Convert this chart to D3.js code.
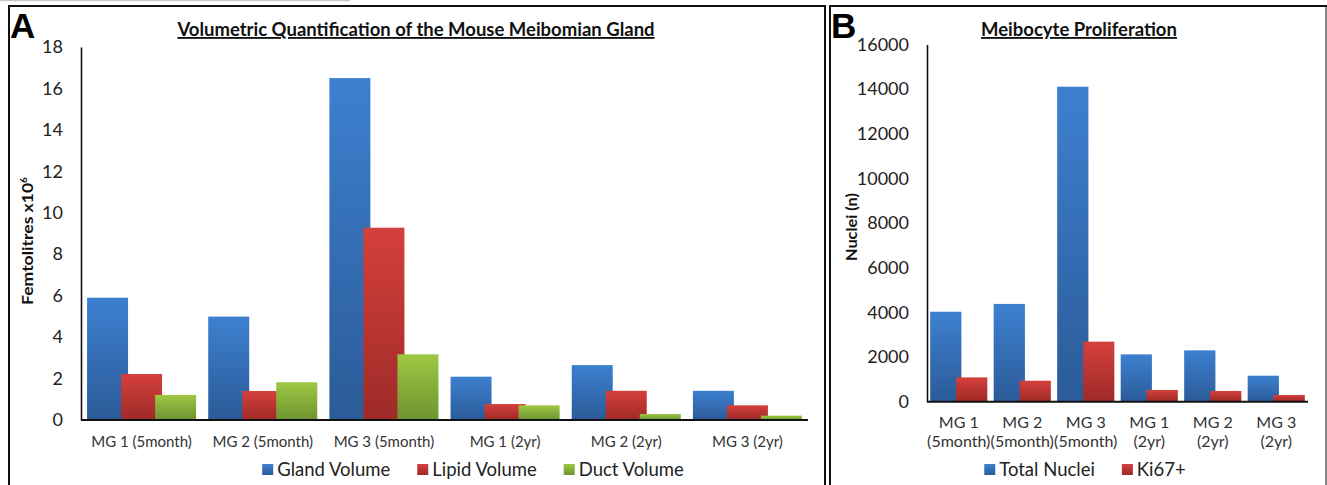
<!DOCTYPE html>
<html>
<head>
<meta charset="utf-8">
<script src="https://cdnjs.cloudflare.com/ajax/libs/d3/7.8.5/d3.min.js"></script>
<style>
  body { margin:0; background:#fff; }
  svg { display:block; }
</style>
</head>
<body>
<script>
// dados painel A
var categoriasA = ["MG 1 (5month)","MG 2 (5month)","MG 3 (5month)","MG 1 (2yr)","MG 2 (2yr)","MG 3 (2yr)"];
var seriesA = ["Gland Volume","Lipid Volume","Duct Volume"];
var glandVolume = [5.9, 4.99, 16.5, 2.09, 2.65, 1.41];
var lipidVolume = [2.22, 1.40, 9.28, 0.77, 1.41, 0.71];
var ductVolume  = [1.21, 1.82, 3.17, 0.71, 0.29, 0.21];
var ticksA = [0,2,4,6,8,10,12,14,16,18];

// dados painel B
var categoriasB = [["MG 1","(5month)"],["MG 2","(5month)"],["MG 3","(5month)"],["MG 1","(2yr)"],["MG 2","(2yr)"],["MG 3","(2yr)"]];
var seriesB = ["Total Nuclei","Ki67+"];
var totalNuclei = [4030, 4380, 14110, 2120, 2300, 1165];
var ki67 = [1090, 940, 2690, 525, 480, 300];
var ticksB = [0,2000,4000,6000,8000,10000,12000,14000,16000];

var w = 1327;
var h = 485;
var fonte = "Lato, 'Open Sans', sans-serif";

var svg = d3.select("body").append("svg").attr("width",w).attr("height",h);

// gradientes das barras
var cores = {
  azul: ["#3d80d0","#2b5b98"],
  vermelho: ["#d4403d","#9e2a27"],
  verde: ["#9ec843","#6d9430"]
};
var defs = svg.append("defs");
Object.keys(cores).forEach(function(k){
  var g = defs.append("linearGradient").attr("id","g-"+k).attr("x1",0).attr("y1",0).attr("x2",0).attr("y2",1);
  g.append("stop").attr("offset","0%").attr("stop-color",cores[k][0]);
  g.append("stop").attr("offset","100%").attr("stop-color",cores[k][1]);
});

// linha cinza no topo
svg.append("line").attr("x1",0).attr("x2",350).attr("y1",0.5).attr("y2",0.5).attr("stroke","#c8c8c8").attr("stroke-width",1.5);

// molduras
svg.append("rect").attr("x",9).attr("y",6).attr("width",816).attr("height",490)
  .attr("fill","none").attr("stroke","#111").attr("stroke-width",2);
svg.append("rect").attr("x",830).attr("y",6).attr("width",496).attr("height",490)
  .attr("fill","none").attr("stroke","#111").attr("stroke-width",2);
svg.append("line").attr("x1",1326).attr("x2",1326).attr("y1",7).attr("y2",h)
  .attr("stroke","#888").attr("stroke-width",2);

function painel(cfg){
  var g = svg.append("g");
  var x = d3.scaleBand().domain(d3.range(cfg.cats.length)).range([cfg.left,cfg.right])
    .paddingInner(0.1).paddingOuter(0.05);
  var y = d3.scaleLinear().domain([0,cfg.max]).range([cfg.bottom,cfg.top]);
  var n = cfg.values.length;
  var overlap = 0.17;
  var bw = x.bandwidth()/(n-(n-1)*overlap);
  var passo = bw*(1-overlap);

  // barras
  cfg.values.forEach(function(vals,s){
    g.selectAll(null)
      .data(vals)
      .enter()
      .append("rect")
      .attr("x",function(d,i){ return x(i)+s*passo; })
      .attr("y",function(d){ return y(d); })
      .attr("width",bw)
      .attr("height",function(d){ return cfg.bottom-y(d); })
      .attr("fill","url(#g-"+cfg.cores[s]+")");
  });

  // eixo y
  var yAxis = d3.axisLeft(y).tickValues(cfg.ticks).tickFormat(d3.format("d")).tickSize(0).tickPadding(cfg.tickPad);
  var ay = g.append("g").attr("transform","translate("+cfg.left+",0)").call(yAxis);
  ay.select(".domain").attr("stroke","#111").attr("stroke-width",1.6);
  ay.selectAll("text").attr("font-family",fonte).attr("font-size",cfg.tickSize).attr("fill","#222");

  // eixo x
  g.append("line").attr("x1",cfg.left).attr("x2",cfg.right).attr("y1",cfg.bottom).attr("y2",cfg.bottom)
    .attr("stroke","#111").attr("stroke-width",2);

  // rotulos das categorias
  g.selectAll(null)
    .data(cfg.cats)
    .enter()
    .append("text")
    .attr("x",function(d,i){ return x(i)+x.bandwidth()/2; })
    .attr("y",cfg.catY)
    .attr("text-anchor","middle")
    .attr("font-family",fonte)
    .attr("font-size",cfg.catSize)
    .attr("fill","#333")
    .each(function(d){
      var t = d3.select(this);
      var linhas = Array.isArray(d) ? d : [d];
      linhas.forEach(function(l,k){
        t.append("tspan").attr("x",t.attr("x")).attr("dy",k===0?0:cfg.catLine).text(l);
      });
    });

  // titulo
  g.append("text").attr("x",cfg.titleX).attr("y",36).attr("text-anchor","middle")
    .attr("font-family",fonte).attr("font-weight","bold").attr("font-size",cfg.titleSize)
    .attr("text-decoration","underline").attr("fill","#111").text(cfg.title);

  // letra do painel
  g.append("text").attr("x",cfg.letraX).attr("y",38)
    .attr("font-family","Arial, 'Liberation Sans', sans-serif").attr("font-weight","bold")
    .attr("font-size",35).attr("fill","#000").text(cfg.letra);

  // legenda
  var leg = g.append("g");
  var cx = 0;
  cfg.series.forEach(function(nome,s){
    var it = leg.append("g").attr("transform","translate("+cx+",0)");
    it.append("rect").attr("x",0).attr("y",-5).attr("width",11).attr("height",11)
      .attr("fill","url(#g-"+cfg.cores[s]+")");
    var t = it.append("text").attr("x",15).attr("y",6.5).attr("font-family",fonte)
      .attr("font-size",cfg.legSize).attr("fill","#222").text(nome);
    cx += 15 + t.node().getComputedTextLength() + 27;
  });
  var lw = cx - 27;
  leg.attr("transform","translate("+(cfg.legCenter-lw/2)+","+469+")");

  return {g:g, y:y};
}

// painel A
var pA = painel({
  cats: categoriasA, values: [glandVolume,lipidVolume,ductVolume], series: seriesA,
  cores: ["azul","vermelho","verde"], max: 18, ticks: ticksA,
  left: 81, right: 808, top: 47, bottom: 420,
  tickPad: 18, tickSize: 18, catY: 447, catSize: 15, catLine: 0,
  title: "Volumetric Quantification of the Mouse Meibomian Gland", titleX: 416, titleSize: 18.5,
  letra: "A", letraX: 10, legCenter: 473, legSize: 18.5
});
var labA = pA.g.append("text").attr("transform","translate(33,241) rotate(-90)")
  .attr("text-anchor","middle").attr("font-family",fonte).attr("font-weight","bold")
  .attr("font-size",15).attr("fill","#111");
labA.append("tspan").attr("textLength",122).attr("lengthAdjust","spacingAndGlyphs").text("Femtolitres x10");
labA.append("tspan").attr("font-size",10).attr("dy",-6).text("6");

// painel B
var pB = painel({
  cats: categoriasB, values: [totalNuclei,ki67], series: seriesB,
  cores: ["azul","vermelho"], max: 16000, ticks: ticksB,
  left: 927, right: 1308, top: 44.5, bottom: 401.7,
  tickPad: 18, tickSize: 18, catY: 428, catSize: 16, catLine: 19,
  title: "Meibocyte Proliferation", titleX: 1079, titleSize: 18.5,
  letra: "B", letraX: 831, legCenter: 1085, legSize: 18.5
});
pB.g.append("text").attr("transform","translate(857,227) rotate(-90)")
  .attr("text-anchor","middle").attr("font-family",fonte).attr("font-weight","bold")
  .attr("font-size",15).attr("fill","#111")
  .attr("textLength",68).attr("lengthAdjust","spacingAndGlyphs").text("Nuclei (n)");
</script>
</body>
</html>
